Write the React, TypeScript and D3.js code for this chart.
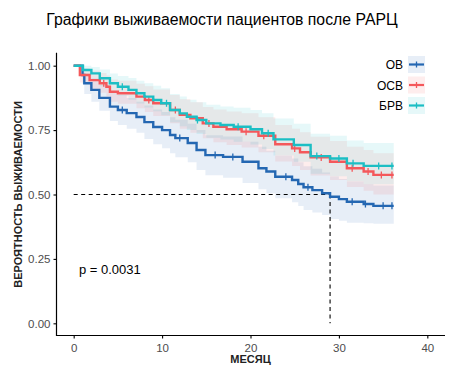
import { useEffect, useRef } from 'react';
import * as d3 from 'd3';

// ОВ
const obTimes = [0, 1, 1.2, 2, 2.9, 4.1, 5, 6, 7.1, 8, 9, 10, 10.9, 11.5, 12.9, 13.9, 14.9, 16.9, 19.1, 20.9, 21.8, 22.8, 24.7, 25.4, 26, 27, 28.1, 29, 30, 30.9, 32.8, 33.9];
const obSurv = [1, 0.964, 0.932, 0.906, 0.875, 0.841, 0.828, 0.816, 0.801, 0.781, 0.762, 0.75, 0.731, 0.719, 0.7, 0.673, 0.653, 0.646, 0.627, 0.602, 0.589, 0.569, 0.556, 0.541, 0.528, 0.517, 0.505, 0.491, 0.482, 0.472, 0.463, 0.456];
const obLo = [1, 0.93, 0.89, 0.86, 0.825, 0.785, 0.77, 0.755, 0.74, 0.715, 0.695, 0.68, 0.66, 0.645, 0.625, 0.595, 0.575, 0.565, 0.545, 0.52, 0.505, 0.485, 0.47, 0.455, 0.44, 0.43, 0.42, 0.405, 0.398, 0.39, 0.388, 0.386];
const obHi = [1, 0.99, 0.97, 0.95, 0.925, 0.895, 0.885, 0.875, 0.86, 0.845, 0.83, 0.82, 0.8, 0.79, 0.775, 0.75, 0.73, 0.725, 0.705, 0.685, 0.67, 0.65, 0.64, 0.625, 0.61, 0.6, 0.585, 0.57, 0.56, 0.55, 0.54, 0.535];
const obCensor = [5.5, 12, 16, 18, 24, 26.5, 31.5, 33, 35, 36];

// ОСВ
const osbTimes = [0, 0.7, 1.8, 2.95, 3.7, 4.1, 5, 7.1, 8.05, 9, 10.9, 12, 13.2, 14.6, 15.8, 17.3, 19, 20.9, 22.8, 24.7, 25.6, 26.8, 29, 30.9, 32.8, 33.9];
const osbSurv = [1, 0.964, 0.944, 0.932, 0.918, 0.899, 0.893, 0.88, 0.867, 0.854, 0.828, 0.809, 0.796, 0.776, 0.763, 0.753, 0.744, 0.728, 0.695, 0.679, 0.664, 0.644, 0.627, 0.602, 0.589, 0.576];
const osbLo = [1, 0.935, 0.91, 0.895, 0.88, 0.86, 0.852, 0.835, 0.82, 0.805, 0.777, 0.755, 0.74, 0.718, 0.703, 0.692, 0.682, 0.664, 0.628, 0.611, 0.595, 0.574, 0.556, 0.529, 0.515, 0.5];
const osbHi = [1, 0.99, 0.98, 0.972, 0.962, 0.946, 0.942, 0.93, 0.92, 0.908, 0.886, 0.87, 0.858, 0.84, 0.83, 0.822, 0.815, 0.8, 0.77, 0.755, 0.742, 0.724, 0.708, 0.685, 0.673, 0.66];
const osbCensor = [3.4, 8.5, 11.5, 15.3, 19.5, 21.5, 25, 28, 31.5, 33.3, 34.8, 36];

// БРВ
const brbTimes = [0, 1.05, 2, 2.95, 4.1, 5, 6.2, 7.1, 8, 9, 9.9, 10.9, 12, 12.8, 13.9, 15, 16.6, 18.1, 20, 21.3, 22.6, 24.9, 26.8, 29, 30.9, 32.8];
const brbSurv = [1, 0.983, 0.97, 0.951, 0.932, 0.918, 0.906, 0.893, 0.88, 0.867, 0.854, 0.828, 0.815, 0.802, 0.789, 0.776, 0.77, 0.763, 0.753, 0.738, 0.714, 0.692, 0.649, 0.64, 0.621, 0.611];
const brbLo = [1, 0.96, 0.945, 0.92, 0.898, 0.882, 0.868, 0.853, 0.838, 0.823, 0.808, 0.78, 0.765, 0.75, 0.735, 0.72, 0.713, 0.705, 0.694, 0.677, 0.651, 0.627, 0.581, 0.571, 0.551, 0.54];
const brbHi = [1, 1, 0.995, 0.985, 0.97, 0.96, 0.952, 0.942, 0.932, 0.922, 0.912, 0.89, 0.88, 0.868, 0.858, 0.848, 0.842, 0.837, 0.828, 0.815, 0.795, 0.775, 0.736, 0.728, 0.71, 0.7];
const brbCensor = [5.5, 10.5, 14, 18.6, 22, 27.5, 30, 31.6, 34.5, 36];

const groupNames = ['ОВ', 'ОСВ', 'БРВ'];
const groupColors = ['#2467b2', '#f4585b', '#1cbec4'];
const xTicks = [0, 10, 20, 30, 40];
const yTicks = [0, 0.25, 0.5, 0.75, 1];
const endTime = 36.2;
const medianTime = 29;
const pText = 'p = 0.0031';

const W = 455;
const H = 373;
const FONT = '"Liberation Sans", Arial, sans-serif';

const App = () => {
    const svgRef = useRef<SVGSVGElement>(null);

    useEffect(() => {
        const svg = d3.select(svgRef.current);
        svg.selectAll('*').remove();

        const x = d3.scaleLinear().domain([-2, 42]).range([56, 445]);
        const y = d3.scaleLinear().domain([-0.05, 1.05]).range([336.2, 52.8]);

        const groups = [
            { times: obTimes, surv: obSurv, lo: obLo, hi: obHi, censor: obCensor },
            { times: osbTimes, surv: osbSurv, lo: osbLo, hi: osbHi, censor: osbCensor },
            { times: brbTimes, surv: brbSurv, lo: brbLo, hi: brbHi, censor: brbCensor },
        ];

        // confidence bands
        groups.forEach((g, i) => {
            const pts = g.times.map((t, k) => ({ t, lo: g.lo[k], hi: g.hi[k] }));
            pts.push({ t: endTime, lo: g.lo[g.lo.length - 1], hi: g.hi[g.hi.length - 1] });
            const area = d3
                .area<any>()
                .curve(d3.curveStepAfter)
                .x((d) => x(d.t))
                .y0((d) => y(d.lo))
                .y1((d) => y(d.hi));
            svg.append('path').datum(pts).attr('d', area).attr('fill', groupColors[i]).attr('fill-opacity', 0.11);
        });

        // median lines
        svg.append('line')
            .attr('x1', x(0)).attr('x2', x(medianTime))
            .attr('y1', y(0.5)).attr('y2', y(0.5))
            .attr('stroke', '#000').attr('stroke-width', 1.1).attr('stroke-dasharray', '4,3.5');
        svg.append('line')
            .attr('x1', x(medianTime)).attr('x2', x(medianTime))
            .attr('y1', y(0.5)).attr('y2', y(0))
            .attr('stroke', '#000').attr('stroke-width', 1.1).attr('stroke-dasharray', '4,3.5');

        // curves + censor marks
        groups.forEach((g, i) => {
            const pts = g.times.map((t, k) => ({ t, s: g.surv[k] }));
            pts.push({ t: endTime, s: g.surv[g.surv.length - 1] });
            const line = d3
                .line<any>()
                .curve(d3.curveStepAfter)
                .x((d) => x(d.t))
                .y((d) => y(d.s));
            svg.append('path').datum(pts).attr('d', line)
                .attr('fill', 'none').attr('stroke', groupColors[i]).attr('stroke-width', 2.4);

            const survAt = (t: number) => {
                const idx = d3.bisectRight(g.times, t) - 1;
                return g.surv[Math.max(0, idx)];
            };
            g.censor.forEach((t) => {
                svg.append('line')
                    .attr('x1', x(t)).attr('x2', x(t))
                    .attr('y1', y(survAt(t)) - 3.5).attr('y2', y(survAt(t)) + 3.5)
                    .attr('stroke', groupColors[i]).attr('stroke-width', 1.3);
            });
        });

        // axes
        const xAxis = d3.axisBottom(x).tickValues(xTicks).tickFormat(d3.format('d')).tickSize(3).tickSizeOuter(0);
        const gx = svg.append('g').attr('transform', `translate(0,335.5)`).call(xAxis);
        const yAxis = d3.axisLeft(y).tickValues(yTicks).tickFormat(d3.format('.2f')).tickSize(3).tickSizeOuter(0);
        const gy = svg.append('g').attr('transform', `translate(56.5,0)`).call(yAxis);
        [gx, gy].forEach((g) => {
            g.select('.domain').attr('stroke', '#000').attr('stroke-width', 1.2);
            g.selectAll('.tick line').attr('stroke', '#000').attr('stroke-width', 1.1);
            g.selectAll('.tick text').attr('fill', '#4d4d4d').attr('font-size', 11.5).attr('font-family', FONT);
        });
        gx.selectAll('.tick text').attr('dy', '0.95em');
        gx.select('.domain').attr('d', `M56,0H445`);
        gy.select('.domain').attr('d', `M0,52.8V336`);

        // p-value
        svg.append('text').attr('x', x(0.6)).attr('y', y(0.19))
            .attr('font-size', 13).attr('font-family', FONT).attr('fill', '#000').text(pText);

        // titles
        svg.append('text').attr('x', 222).attr('y', 25).attr('text-anchor', 'middle')
            .attr('font-size', 15.8).attr('font-family', FONT).attr('fill', '#000')
            .text('Графики выживаемости пациентов после РАРЦ');
        svg.append('text').attr('x', x(20)).attr('y', 363).attr('text-anchor', 'middle')
            .attr('font-size', 11).attr('font-weight', 'bold').attr('font-family', FONT).attr('fill', '#222')
            .text('МЕСЯЦ');
        svg.append('text').attr('transform', `translate(22,${y(0.5)}) rotate(-90)`).attr('text-anchor', 'middle')
            .attr('font-size', 11).attr('font-weight', 'bold').attr('font-family', FONT).attr('fill', '#222')
            .text('ВЕРОЯТНОСТЬ ВЫЖИВАЕМОСТИ');

        // legend
        const legend = svg.append('g').attr('transform', 'translate(408,56)');
        groupNames.forEach((name, i) => {
            const row = legend.append('g').attr('transform', `translate(0,${i * 20.5})`);
            row.append('rect').attr('x', 0).attr('y', 0).attr('width', 17).attr('height', 17)
                .attr('fill', groupColors[i]).attr('fill-opacity', 0.11);
            row.append('line').attr('x1', 1).attr('x2', 16).attr('y1', 8.5).attr('y2', 8.5)
                .attr('stroke', groupColors[i]).attr('stroke-width', 2.2);
            row.append('line').attr('x1', 8.5).attr('x2', 8.5).attr('y1', 5.5).attr('y2', 11.5)
                .attr('stroke', groupColors[i]).attr('stroke-width', 1.3);
            row.append('text').attr('x', -5).attr('y', 13).attr('text-anchor', 'end')
                .attr('font-size', 12).attr('font-family', FONT).attr('fill', '#000').text(name);
        });
    }, []);

    return (
        <svg ref={svgRef} width={W} height={H} style={{ position: 'absolute', left: 0, top: 0, background: '#fff' }} />
    );
};

export default App;
